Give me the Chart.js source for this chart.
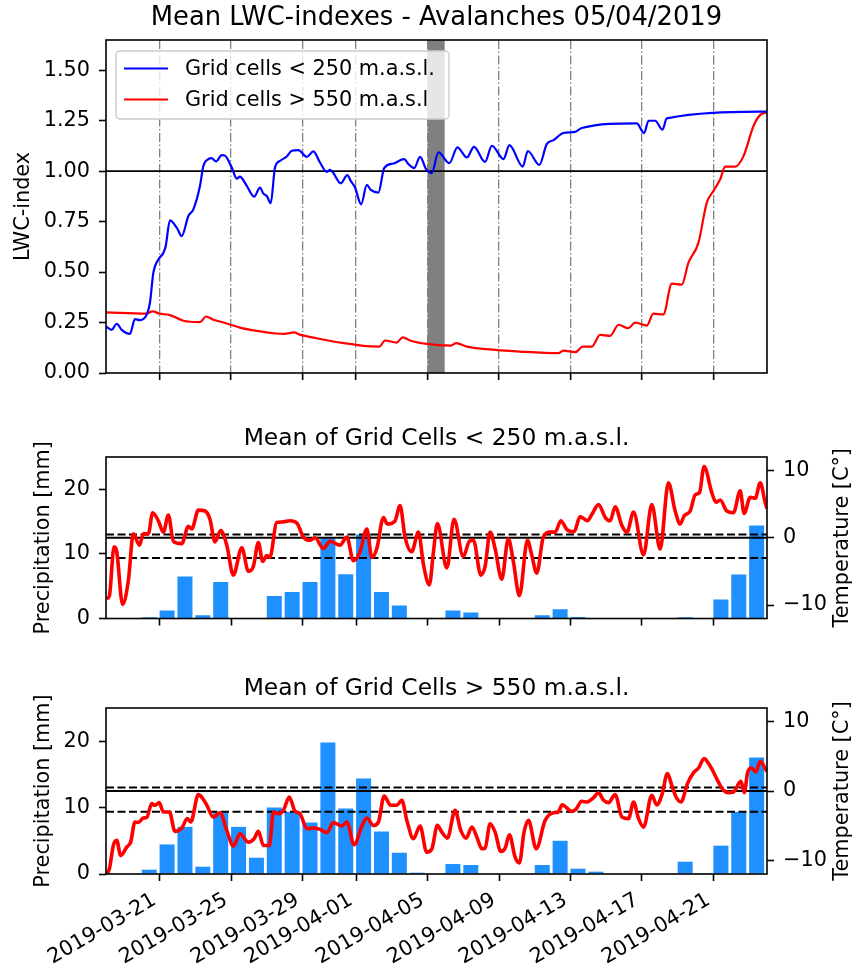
<!DOCTYPE html>
<html><head><meta charset="utf-8">
<script src="https://cdn.jsdelivr.net/npm/chart.js@4.4.1/dist/chart.umd.min.js"></script>
<style>
html,body{margin:0;padding:0;background:#fff;}
#wrap{position:relative;width:855px;height:966px;overflow:hidden;}
canvas{position:absolute;left:0;}
</style></head><body>
<div id="wrap">
<canvas id="c1" width="855" height="400" style="top:0px"></canvas>
<canvas id="c2" width="855" height="240" style="top:400px"></canvas>
<canvas id="c3" width="855" height="326" style="top:640px"></canvas>
</div>
<script>
// ---------------- DATA ----------------
const startDate = '2019-03-18';
const endDate = '2019-04-24';
const tickLabels = ['2019-03-21','2019-03-25','2019-03-29','2019-04-01','2019-04-05','2019-04-09','2019-04-13','2019-04-17','2019-04-21'];
const avalancheSpan = ['2019-04-05T00:00', '2019-04-05T23:00'];

const titleMain = 'Mean LWC-indexes - Avalanches 05/04/2019';
const titleLow = 'Mean of Grid Cells < 250 m.a.s.l.';
const titleHigh = 'Mean of Grid Cells > 550 m.a.s.l.';
const seriesNames = ['Grid cells < 250 m.a.s.l.', 'Grid cells > 550 m.a.s.l'];
const lwcTicks = [0, 0.25, 0.5, 0.75, 1.0, 1.25, 1.5];
const lwcThreshold = 1.0;
const precipTicks = [0, 10, 20];
const tempTicks = [-10, 0, 10];
const tempZero = 0;
const tempThresholds = [0.5, -3];

// [days since startDate, value]
const lwcLow = [[0,0.23],[0.32,0.214],[0.6,0.244],[0.88,0.214],[1.34,0.194],[1.62,0.267],[1.9,0.262],[2.28,0.289],[2.46,0.348],[2.65,0.496],[2.93,0.562],[3.21,0.595],[3.34,0.628],[3.58,0.756],[3.96,0.72],[4.24,0.678],[4.61,0.778],[4.89,0.811],[5.26,0.927],[5.45,1.026],[5.73,1.06],[5.9,1.065],[6.16,1.048],[6.48,1.08],[6.66,1.077],[7.04,1.018],[7.32,0.963],[7.5,0.973],[7.65,0.96],[7.88,0.927],[8.29,0.874],[8.62,0.919],[8.8,0.89],[9.0,0.877],[9.22,0.841],[9.46,1.018],[9.74,1.051],[10.12,1.073],[10.4,1.101],[10.77,1.104],[11.24,1.071],[11.61,1.098],[11.98,1.043],[12.36,0.997],[12.54,1.006],[12.73,0.99],[13.14,0.94],[13.51,0.98],[13.7,0.952],[13.94,0.919],[14.28,0.836],[14.6,0.932],[14.82,0.907],[15.25,0.894],[15.57,1.015],[16.09,1.038],[16.69,1.06],[16.93,1.035],[17.25,1.015],[17.58,1.071],[17.92,1.01],[18.23,0.99],[18.61,1.093],[19.22,1.04],[19.67,1.118],[20.2,1.068],[20.6,1.12],[21.22,1.046],[21.6,1.126],[22.25,1.06],[22.58,1.129],[23.33,1.023],[23.61,1.10],[24.26,1.031],[24.67,1.134],[25.05,1.154],[25.6,1.189],[26.26,1.195],[26.63,1.214],[29.71,1.237],[30.12,1.189],[30.37,1.25],[30.74,1.25],[31.15,1.206],[31.39,1.262],[37,1.295]];

const lwcHigh = [[0,0.30],[2.26,0.294],[2.61,0.305],[3.0,0.294],[3.58,0.287],[4.33,0.259],[5.26,0.252],[5.6,0.28],[6.01,0.264],[6.57,0.25],[7.5,0.225],[8.44,0.209],[9.37,0.197],[9.99,0.194],[10.53,0.201],[10.86,0.19],[11.8,0.172],[12.73,0.156],[13.66,0.144],[14.41,0.134],[15.3,0.131],[15.62,0.161],[16.27,0.151],[16.61,0.177],[17.02,0.161],[17.95,0.144],[19.3,0.136],[19.6,0.148],[20.2,0.131],[21.3,0.118],[23.18,0.106],[25.33,0.098],[25.6,0.111],[26.26,0.103],[26.69,0.131],[27.19,0.131],[27.66,0.189],[28.22,0.184],[28.69,0.239],[29.24,0.222],[29.62,0.25],[30.27,0.235],[30.64,0.294],[31.2,0.29],[31.67,0.443],[32.23,0.438],[32.6,0.546],[33.16,0.645],[33.63,0.844],[34.0,0.902],[34.38,0.96],[34.66,1.023],[35.22,1.023],[35.69,1.076],[36.25,1.225],[36.62,1.279],[37,1.292]];

// daily precipitation [mm], one value per day from startDate
const precipLow = [0,0,0.2,1.25,6.5,0.5,5.65,0,0,3.5,4.1,5.65,12.4,6.85,13.0,4.1,2.0,0,0,1.25,0.95,0,0,0,0.5,1.45,0.25,0,0,0,0,0,0.2,0,2.95,6.8,14.4];
const precipHigh = [0,0,0.65,4.45,7.1,1.1,9.3,7.1,2.45,10.0,9.35,7.75,19.8,9.85,14.4,6.4,3.2,0.2,0,1.5,1.35,0,0,0,1.35,5.0,0.8,0.35,0,0,0,0,1.85,0.15,4.27,9.35,17.55];

// temperature [°C], [days since startDate, value]
const tempLow = [[0.04,-9.07],[0.19,-8.6],[0.45,-1.35],[0.6,-2.07],[0.93,-9.9],[1.25,-6.4],[1.53,0.58],[1.87,-1.1],[2.09,0.58],[2.37,0.58],[2.61,3.72],[2.93,2.52],[3.21,0.83],[3.49,3.39],[3.77,-0.52],[4.24,-0.87],[4.61,1.7],[4.8,1.3],[5.17,4.1],[5.54,3.97],[5.82,2.75],[6.1,-0.62],[6.42,1.07],[6.76,-1.1],[7.13,-5.55],[7.6,-1.49],[7.97,-4.97],[8.25,-4.25],[8.53,-0.72],[8.77,-3.52],[9.0,-2.65],[9.17,-2.94],[9.56,2.28],[9.84,2.35],[10.3,2.52],[10.68,2.2],[11.05,0.1],[11.42,-0.38],[11.7,0.0],[12.17,-1.6],[12.54,-0.52],[13.1,-1.1],[13.48,0.1],[13.85,-3.42],[14.22,-2.07],[14.6,1.3],[14.88,-2.94],[15.16,-1.6],[15.53,3.0],[15.75,2.04],[16.18,2.52],[16.46,4.79],[16.74,0.1],[17.11,-2.07],[17.49,0.83],[17.77,-4.0],[18.1,-7.0],[18.33,-2.07],[18.55,2.1],[19.08,-4.49],[19.48,2.75],[20.0,-2.8],[20.34,-0.52],[20.57,-0.38],[20.98,-5.55],[21.22,-4.25],[21.5,0.83],[21.78,-1.6],[22.15,-6.17],[22.52,-0.14],[22.8,-3.52],[23.14,-8.6],[23.59,-0.38],[23.83,-2.55],[24.11,-5.26],[24.48,0.1],[24.86,0.83],[25.14,0.83],[25.46,2.52],[25.8,1.22],[26.2,0.9],[26.54,3.14],[26.95,2.52],[27.2,3.48],[27.57,4.93],[27.95,3.0],[28.22,2.52],[28.5,4.6],[28.88,1.8],[29.16,0.83],[29.53,3.82],[30.09,-2.55],[30.55,4.93],[31.02,-1.68],[31.48,8.17],[31.86,3.97],[32.14,2.04],[32.36,3.24],[32.7,3.97],[32.98,6.38],[33.22,6.7],[33.48,10.58],[33.91,6.7],[34.15,5.27],[34.38,5.6],[34.75,3.97],[35.12,3.72],[35.5,6.96],[35.72,3.6],[36.06,6.0],[36.34,5.86],[36.62,8.17],[36.9,5.2],[37,4.3]];

const tempHigh = [[0.04,-11.97],[0.19,-11.25],[0.41,-7.87],[0.6,-7.14],[0.82,-9.32],[1.16,-8.11],[1.38,-7.39],[1.62,-4.49],[1.81,-4.55],[2.09,-3.91],[2.28,-3.82],[2.56,-1.83],[2.74,-2.07],[2.98,-1.68],[3.21,-3.04],[3.55,-3.04],[3.86,-5.84],[4.24,-5.36],[4.55,-4.0],[4.74,-4.49],[5.17,-0.52],[5.6,-1.83],[6.01,-3.77],[6.38,-3.14],[6.76,-5.7],[7.13,-7.97],[7.5,-6.17],[7.97,-7.39],[8.29,-6.9],[8.53,-5.84],[8.81,-7.87],[9.15,-7.87],[9.37,-3.04],[9.65,-3.28],[9.93,-2.8],[10.26,-0.87],[10.58,-2.94],[10.86,-3.28],[11.24,-5.45],[11.61,-5.36],[11.98,-5.55],[12.36,-6.03],[12.73,-4.55],[13.2,-5.07],[13.48,-4.49],[13.89,-7.77],[14.32,-5.07],[14.6,-3.91],[14.98,-5.0],[15.25,-4.49],[15.57,-0.72],[15.94,-2.07],[16.27,-2.07],[16.56,-1.35],[16.84,-4.25],[17.21,-6.9],[17.58,-5.07],[17.95,-8.84],[18.24,-8.36],[18.55,-4.97],[18.8,-5.94],[19.11,-6.81],[19.54,-2.8],[19.86,-5.7],[20.16,-6.81],[20.48,-5.22],[20.76,-6.67],[21.04,-8.36],[21.22,-8.26],[21.5,-4.73],[21.78,-5.94],[22.1,-8.74],[22.34,-8.26],[22.58,-6.33],[22.9,-9.57],[23.14,-10.4],[23.4,-5.94],[23.65,-4.25],[24.08,-8.36],[24.58,-4.25],[25.05,-3.14],[25.32,-3.04],[25.53,-1.99],[26.07,-2.94],[26.3,-2.65],[26.63,-1.49],[26.91,-1.59],[27.28,-1.0],[27.57,-0.25],[27.85,-1.35],[28.13,-1.68],[28.5,-0.52],[28.88,-3.77],[29.25,-4.0],[29.53,-1.6],[29.81,-4.0],[30.09,-5.22],[30.55,-0.62],[30.83,-2.0],[31.11,-0.62],[31.43,2.52],[31.67,0.83],[31.91,-0.87],[32.18,-1.59],[32.55,1.07],[32.89,2.65],[33.17,3.33],[33.48,4.69],[33.73,3.97],[34.0,2.75],[34.23,1.55],[34.56,0.1],[34.84,-0.24],[35.12,-0.14],[35.54,1.4],[35.73,-0.24],[35.92,2.75],[36.14,3.33],[36.38,2.75],[36.62,4.3],[36.9,3.24],[37,2.8]];

// ---------------- HELPERS ----------------
const MS_DAY = 86400000;
function dayOf(s) {
  const iso = s.length === 10 ? s + 'T00:00:00Z' : s + ':00Z';
  return (Date.parse(iso) - Date.parse(startDate + 'T00:00:00Z')) / MS_DAY;
}
const xMax = dayOf(endDate);
const tickDays = tickLabels.map(dayOf);
const BAR_FRACTION = 0.84;          // bar width as a fraction of one day
const toXY = arr => arr.map(p => ({x: p[0], y: p[1]}));
// bars are edge-aligned: they start at 00:00 of their day
const dailyXY = arr => arr.map((v, i) => ({x: i + BAR_FRACTION / 2, y: v}));
const minusFmt = v => (v < 0 ? '\u2212' + Math.abs(v) : String(v));

Chart.defaults.font.family = 'DejaVu Sans';
Chart.defaults.font.size = 20.8;
Chart.defaults.color = '#000';
Chart.defaults.animation = false;

const FONT = '20.8px "DejaVu Sans"';

const framePlugin = {
  id: 'frame',
  afterDatasetsDraw(chart) {
    const {ctx, chartArea: a} = chart;
    ctx.save();
    ctx.strokeStyle = '#000';
    ctx.lineWidth = 1.6;
    ctx.strokeRect(a.left, a.top, a.right - a.left, a.bottom - a.top);
    ctx.restore();
  }
};

function xAxisCommon(extra) {
  return Object.assign({
    type: 'linear',
    min: 0,
    max: xMax,
    offset: false,
    afterBuildTicks: s => { s.ticks = tickDays.map(v => ({value: v})); },
    grid: {offset: false, drawOnChartArea: false, tickLength: 7, tickColor: '#000', tickWidth: 1.6},
    border: {display: false},
  }, extra);
}

// ---------------- CHART 1 : LWC ----------------
const lwcPlugin = {
  id: 'lwcExtras',
  beforeDatasetsDraw(chart) {
    const {ctx, chartArea: a, scales: {x, y}} = chart;
    ctx.save();
    const x0 = x.getPixelForValue(dayOf(avalancheSpan[0]));
    const x1 = x.getPixelForValue(dayOf(avalancheSpan[1]));
    ctx.fillStyle = '#808080';
    ctx.fillRect(x0, a.top, x1 - x0, a.bottom - a.top);
    const yy = y.getPixelForValue(lwcThreshold);
    ctx.strokeStyle = '#000';
    ctx.lineWidth = 1.8;
    ctx.beginPath(); ctx.moveTo(a.left, yy); ctx.lineTo(a.right, yy); ctx.stroke();
    ctx.restore();
  },
  afterDatasetsDraw(chart) {
    const {ctx} = chart;
    const bx = 116, by = 51, bw = 333, bh = 68, r = 4;
    ctx.save();
    ctx.beginPath();
    ctx.moveTo(bx + r, by);
    ctx.arcTo(bx + bw, by, bx + bw, by + bh, r);
    ctx.arcTo(bx + bw, by + bh, bx, by + bh, r);
    ctx.arcTo(bx, by + bh, bx, by, r);
    ctx.arcTo(bx, by, bx + bw, by, r);
    ctx.closePath();
    ctx.fillStyle = 'rgba(255,255,255,0.8)';
    ctx.fill();
    ctx.strokeStyle = '#cccccc';
    ctx.lineWidth = 1.4;
    ctx.stroke();
    chart.data.datasets.forEach((ds, i) => {
      const ly = 68.5 + i * 31;
      ctx.strokeStyle = ds.borderColor;
      ctx.lineWidth = 2.2;
      ctx.beginPath(); ctx.moveTo(124, ly); ctx.lineTo(168, ly); ctx.stroke();
      ctx.fillStyle = '#000';
      ctx.font = FONT;
      ctx.textAlign = 'left';
      ctx.textBaseline = 'middle';
      ctx.fillText(ds.label, 185, ly + 1);
    });
    ctx.restore();
  }
};

new Chart(document.getElementById('c1'), {
  type: 'line',
  data: {
    datasets: [
      {label: seriesNames[0], data: toXY(lwcLow), borderColor: '#0000ff', borderWidth: 2.2, pointRadius: 0, cubicInterpolationMode: 'monotone'},
      {label: seriesNames[1], data: toXY(lwcHigh), borderColor: '#ff0000', borderWidth: 2.2, pointRadius: 0, cubicInterpolationMode: 'monotone'}
    ]
  },
  options: {
    responsive: false,
    devicePixelRatio: 1,
    events: [],
    layout: {padding: {left: 0, right: 88, top: 0, bottom: 0}},
    plugins: {
      legend: {display: false},
      tooltip: {enabled: false},
      title: {display: true, text: titleMain, fullSize: false, font: {size: 25.8, weight: 'normal'}, padding: {top: 3, bottom: 6.04}, color: '#000'}
    },
    scales: {
      x: xAxisCommon({
        ticks: {display: false},
        grid: {offset: false, drawOnChartArea: true, color: '#808080', lineWidth: 1.3, tickLength: 7, tickColor: '#000', tickWidth: 1.6, tickBorderDash: []},
        border: {display: false, dash: [9, 2.5, 1.5, 2.5]},
        afterFit: s => { s.height = 27; }
      }),
      y: {
        type: 'linear', position: 'left', min: 0, max: 1.65,
        afterBuildTicks: s => { s.ticks = lwcTicks.map(v => ({value: v})); },
        ticks: {padding: 9, callback: v => Number(v).toFixed(2)},
        grid: {drawOnChartArea: false, tickLength: 7, tickColor: '#000', tickWidth: 1.6},
        border: {display: false},
        title: {display: true, text: 'LWC-index', padding: {top: 11.5, bottom: 0}},
        afterFit: s => { s.width = 106; }
      }
    }
  },
  plugins: [lwcPlugin, framePlugin]
});

// ---------------- CHARTS 2 & 3 : precipitation / temperature ----------------
function makeMeteoChart(id, title, precip, temp, titlePad, xHeight, showLabels) {
  const refPlugin = {
    id: 'refLines',
    afterDatasetDraw(chart, args) {
      if (args.meta.type !== 'bar') return;
      const {ctx, chartArea: a, scales: {y2}} = chart;
      ctx.save();
      ctx.strokeStyle = '#000';
      ctx.lineWidth = 2;
      const draw = (v, dash) => {
        const yy = y2.getPixelForValue(v);
        ctx.setLineDash(dash);
        ctx.beginPath(); ctx.moveTo(a.left, yy); ctx.lineTo(a.right, yy); ctx.stroke();
      };
      draw(tempZero, []);
      tempThresholds.forEach(v => draw(v, [8, 3.5]));
      ctx.restore();
    },
    afterDraw(chart) {
      const {ctx, chartArea: a} = chart;
      ctx.save();
      ctx.font = FONT;
      ctx.fillStyle = '#000';
      ctx.textAlign = 'center';
      ctx.textBaseline = 'middle';
      ctx.translate(843, (a.top + a.bottom) / 2);
      ctx.rotate(-Math.PI / 2);
      ctx.fillText('Temperature [C°]', 0, 0);
      ctx.restore();
    }
  };
  return new Chart(document.getElementById(id), {
    type: 'bar',
    data: {
      datasets: [
        {type: 'line', data: toXY(temp), xAxisID: 'x', yAxisID: 'y2', borderColor: '#ff0000', borderWidth: 3.6, pointRadius: 0, cubicInterpolationMode: 'monotone'},
        {type: 'bar', data: dailyXY(precip), xAxisID: 'x', yAxisID: 'y', backgroundColor: '#1e90ff', borderWidth: 0, categoryPercentage: 1.0, barPercentage: BAR_FRACTION}
      ]
    },
    options: {
      responsive: false,
      devicePixelRatio: 1,
      events: [],
      layout: {padding: 0},
      plugins: {
        legend: {display: false},
        tooltip: {enabled: false},
        title: {display: true, text: title, fullSize: false, font: {size: 23.4, weight: 'normal'}, padding: titlePad, color: '#000'}
      },
      scales: {
        x: xAxisCommon({
          ticks: showLabels
            ? {display: true, autoSkip: false, maxRotation: 30, minRotation: 30, padding: 7, labelOffset: -5, callback: (v, i) => tickLabels[i]}
            : {display: false},
          afterFit: s => { s.height = xHeight; }
        }),
        y: {
          type: 'linear', position: 'left', min: 0, max: 25,
          afterBuildTicks: s => { s.ticks = precipTicks.map(v => ({value: v})); },
          ticks: {padding: 9},
          grid: {drawOnChartArea: false, tickLength: 7, tickColor: '#000', tickWidth: 1.6},
          border: {display: false},
          title: {display: true, text: 'Precipitation [mm]', padding: {top: 31.5, bottom: 0}},
          afterFit: s => { s.width = 106; }
        },
        y2: {
          type: 'linear', position: 'right', min: -12, max: 12,
          afterBuildTicks: s => { s.ticks = tempTicks.map(v => ({value: v})); },
          ticks: {padding: 9, callback: v => minusFmt(v)},
          grid: {drawOnChartArea: false, tickLength: 7, tickColor: '#000', tickWidth: 1.6},
          border: {display: false},
          afterFit: s => { s.width = 88; }
        }
      }
    },
    plugins: [refPlugin, framePlugin]
  });
}

makeMeteoChart('c2', titleLow, precipLow, tempLow, {top: 24.5, bottom: 4.42}, 17, false);
makeMeteoChart('c3', titleHigh, precipHigh, tempHigh, {top: 35, bottom: 4.92}, 92, true);
</script>
</body></html>
